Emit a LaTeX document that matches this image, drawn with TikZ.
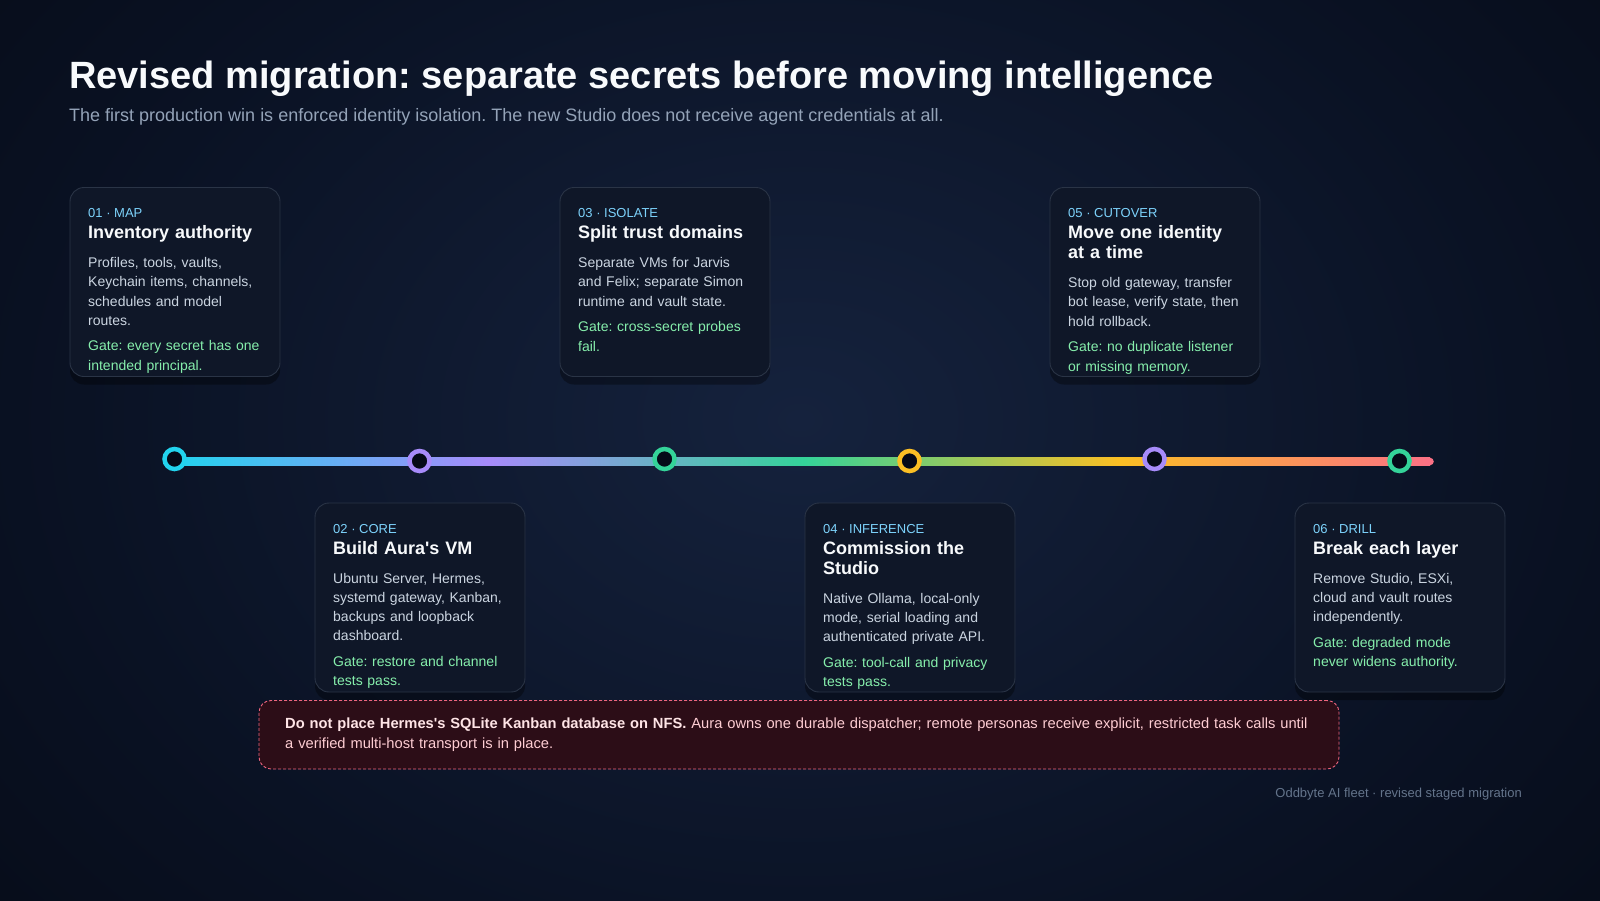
\documentclass[tikz,border=0pt]{standalone}
\usepackage{fontspec}
\setmainfont{Liberation Sans}
\usetikzlibrary{shadows}
\frenchspacing
\definecolor{bgc}{HTML}{03060e}
\definecolor{midc}{HTML}{0a1224}
\definecolor{glowc}{HTML}{15223d}
\definecolor{cardfill}{HTML}{0f1728}
\definecolor{cardline}{HTML}{2a3446}
\definecolor{lblc}{HTML}{7dd3fc}
\definecolor{bodyc}{HTML}{cbd5e1}
\definecolor{gatec}{HTML}{86efac}
\definecolor{titlec}{HTML}{f8fafc}
\definecolor{subc}{HTML}{94a3b8}
\definecolor{footc}{HTML}{64748b}
\definecolor{warnfill}{HTML}{2c0d17}
\definecolor{warnline}{HTML}{f0657e}
\definecolor{warntext}{HTML}{fecdd3}
\definecolor{warnbold}{HTML}{ffe4e6}
\definecolor{dotfill}{HTML}{050a18}
\definecolor{ccyan}{HTML}{22d3ee}
\definecolor{cpurple}{HTML}{a78bfa}
\definecolor{cgreen}{HTML}{34d399}
\definecolor{camber}{HTML}{fbbf24}
\definecolor{cpink}{HTML}{fb7185}
\pgfdeclareradialshading{bgglow}{\pgfpoint{0bp}{0bp}}{color(0bp)=(glowc); color(18bp)=(midc); color(36bp)=(bgc); color(50bp)=(bgc)}
\tikzset{
  card/.style={draw=cardline, fill=cardfill, rounded corners=14pt, minimum width=210pt, minimum height=189pt, line width=0.9pt, inner sep=0pt, drop shadow={shadow xshift=0pt, shadow yshift=-8pt, opacity=0.35, fill=black}},
  lbl/.style={anchor=base west, inner sep=0pt, text=lblc, font=\fontsize{13}{15}\selectfont},
  ttl/.style={anchor=base west, inner sep=0pt, text=titlec, text width=190pt, align=left, font=\fontsize{18}{20}\selectfont\bfseries},
  bdy/.style={anchor=base west, inner sep=0pt, text=bodyc, text width=190pt, align=left, font=\fontsize{14}{19.3}\selectfont},
  gatetxt/.style={anchor=base west, inner sep=0pt, text=gatec, text width=190pt, align=left, font=\fontsize{14}{19.5}\selectfont},
  stopdot/.style={circle, minimum size=20pt, inner sep=0pt, line width=4.5pt, fill=dotfill},
}
\newcommand\stagecard[9]{%
  \node[card] (#1) at (#2+105,#3+94.5) {};
  \node[lbl] (#1l) at (#2+18,#3+30) {#4};
  \node[ttl] (#1t) at (#2+18,#3+51) {#5};
  \node[bdy] (#1b) at (#2+18,#3+#6) {#7};
  \node[gatetxt] (#1g) at (#2+18,#3+#8) {#9};
}
\begin{document}
\begin{tikzpicture}[x=1pt,y=-1pt]
\useasboundingbox (0,0) rectangle (1600,900);
\fill[bgc] (0,0) rectangle (1600,900);
\begin{scope}
\clip (0,0) rectangle (1600,900);
\shade[shading=bgglow] (-200,-330) rectangle (1800,1170);
\end{scope}
% title
\node[anchor=base west, inner sep=0pt, text=titlec, font=\fontsize{38}{40}\selectfont\bfseries] (title) at (69,88) {Revised migration: separate secrets before moving intelligence};
\node[anchor=base west, inner sep=0pt, text=subc, font=\fontsize{18}{20}\selectfont] (subtitle) at (69,121) {The first production win is enforced identity isolation. The new Studio does not receive agent credentials at all.};
% cards
\stagecard{c1}{70}{187.5}{01 · MAP}{Inventory authority}{80}{Profiles, tools, vaults,\\Keychain items, channels,\\schedules and model\\routes.}{163}{Gate: every secret has one\\intended principal.}
\stagecard{c2}{315}{503}{02 · CORE}{Build Aura\textquotesingle s VM}{80}{Ubuntu Server, Hermes,\\systemd gateway, Kanban,\\backups and loopback\\dashboard.}{163}{Gate: restore and channel\\tests pass.}
\stagecard{c3}{560}{187.5}{03 · ISOLATE}{Split trust domains}{80}{Separate VMs for Jarvis\\and Felix; separate Simon\\runtime and vault state.}{144}{Gate: cross-secret probes\\fail.}
\stagecard{c4}{805}{503}{04 · INFERENCE}{Commission the\\Studio}{100}{Native Ollama, local-only\\mode, serial loading and\\authenticated private API.}{164}{Gate: tool-call and privacy\\tests pass.}
\stagecard{c5}{1050}{187.5}{05 · CUTOVER}{Move one identity\\at a time}{100}{Stop old gateway, transfer\\bot lease, verify state, then\\hold rollback.}{164}{Gate: no duplicate listener\\or missing memory.}
\stagecard{c6}{1295}{503}{06 · DRILL}{Break each layer}{80}{Remove Studio, ESXi,\\cloud and vault routes\\independently.}{144}{Gate: degraded mode\\never widens authority.}
% timeline bar
\coordinate (g0) at (174.5,457.75);
\coordinate (g1) at (489,465.25);
\coordinate (g1t) at (489,457.75);
\coordinate (g2) at (804,465.25);
\coordinate (g2t) at (804,457.75);
\coordinate (g3) at (1119,465.25);
\coordinate (g3t) at (1119,457.75);
\coordinate (g4) at (1430,465.25);
\coordinate (gend) at (1430,461.5);
\shade[left color=ccyan, right color=cpurple] (g0) rectangle (g1);
\shade[left color=cpurple, right color=cgreen] (g1t) rectangle (g2);
\shade[left color=cgreen, right color=camber] (g2t) rectangle (g3);
\shade[left color=camber, right color=cpink] (g3t) rectangle (g4);
\fill[cpink] (gend) circle (3.75pt);
% stops
\node[stopdot, draw=ccyan] (s1) at (174.5,459) {};
\node[stopdot, draw=cpurple] (s2) at (419.5,461) {};
\node[stopdot, draw=cgreen] (s3) at (664.5,459) {};
\node[stopdot, draw=camber] (s4) at (909.5,461) {};
\node[stopdot, draw=cpurple] (s5) at (1154.5,459) {};
\node[stopdot, draw=cgreen] (s6) at (1399.5,461) {};
% warning
\node[draw=warnline, fill=warnfill, dashed, dash pattern=on 3pt off 2pt, line width=0.9pt, rounded corners=12pt, minimum width=1080pt, minimum height=68.5pt, inner sep=0pt] (warn) at (799,734.75) {};
\node[anchor=base west, inner sep=0pt, text=warntext, text width=1050pt, align=left, font=\fontsize{14.7}{20}\selectfont] (warntext) at (285,728) {{\bfseries\color{warnbold}Do not place Hermes\textquotesingle s SQLite Kanban database on NFS.} Aura owns one durable dispatcher; remote personas receive explicit, restricted task calls until\\a verified multi-host transport is in place.};
% footer
\node[anchor=base east, inner sep=0pt, text=footc, font=\fontsize{13}{15}\selectfont] (footer) at (1522,797) {Oddbyte AI fleet · revised staged migration};
\end{tikzpicture}
\end{document}
